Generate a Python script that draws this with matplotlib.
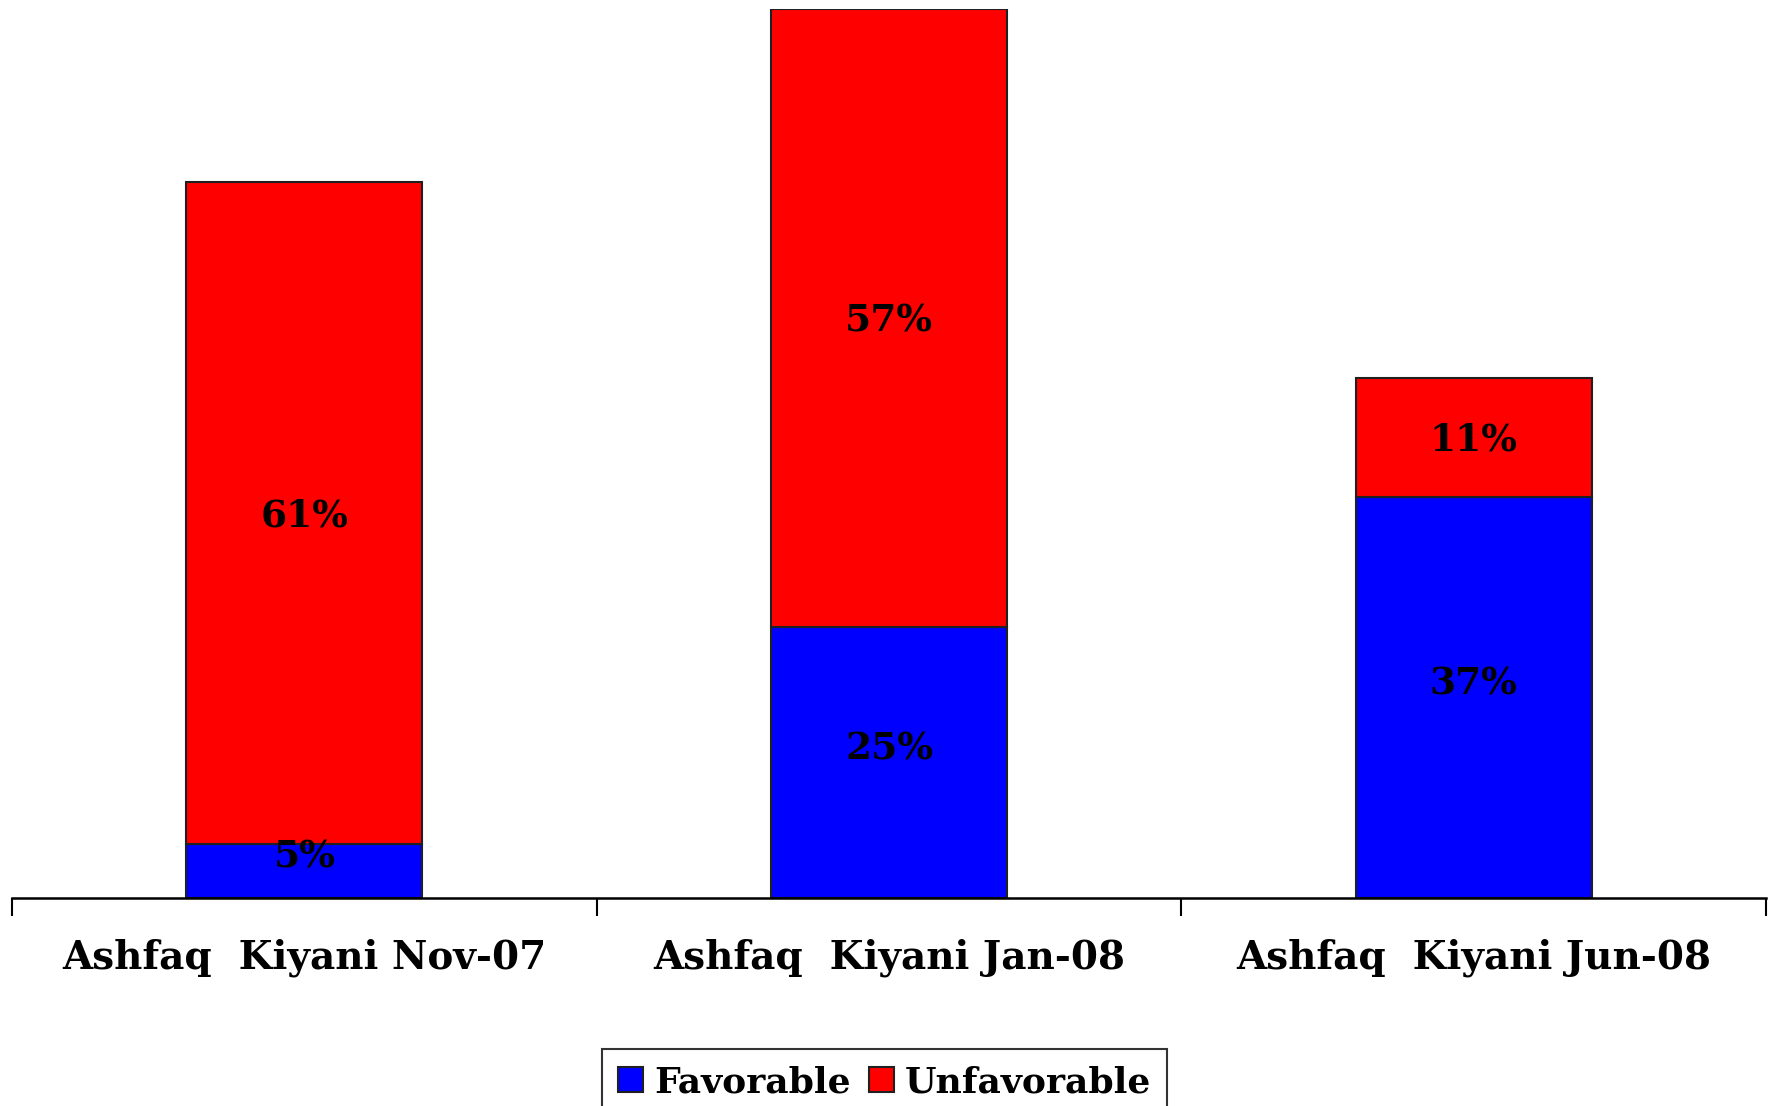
import matplotlib
matplotlib.use('agg')
import matplotlib.pyplot as plt

categories = ["Ashfaq  Kiyani Nov-07", "Ashfaq  Kiyani Jan-08", "Ashfaq  Kiyani Jun-08"]
favorable = [5, 25, 37]
unfavorable = [61, 57, 11]

plt.rcParams['font.family'] = ['DejaVu Serif']
plt.rcParams['font.weight'] = 'bold'

fig = plt.figure(figsize=(17.69, 11.06), dpi=100)
ax = fig.add_axes([12 / 1769, 208 / 1106, 1754 / 1769, 889 / 1106])

x = list(range(len(categories)))
w = 0.404
ax.bar(x, favorable, w, color="#0000ff", edgecolor="#202020", linewidth=1.5, label="Favorable")
ax.bar(x, unfavorable, w, bottom=favorable, color="#ff0000", edgecolor="#202020", linewidth=1.5, label="Unfavorable")

# favorable labels sit a bit above the segment middle in the original
for i in x:
    ax.annotate("{0}%".format(favorable[i]), (i, favorable[i] / 2), xytext=(0, 10),
                textcoords="offset points", ha="center", va="center", fontsize=27, fontweight="bold")
    ax.annotate("{0}%".format(unfavorable[i]), (i, favorable[i] + unfavorable[i] / 2), xytext=(0, -2),
                textcoords="offset points", ha="center", va="center", fontsize=27, fontweight="bold")

ax.set_xlim(-0.5, 2.5)
ax.set_ylim(0, 82)
for s in ["top", "right", "left"]:
    ax.spines[s].set_visible(False)
ax.spines["bottom"].set_linewidth(1.8)
ax.set_yticks([])
ax.set_xticks([-0.5, 0.5, 1.5, 2.5])
ax.set_xticklabels([])
ax.tick_params(axis="x", direction="out", length=13, width=1.5)
for i in x:
    ax.text(i, -5.5, categories[i], ha="center", va="center", fontsize=28, fontweight="bold")

leg = fig.legend(loc="upper center", bbox_to_anchor=(0.5, 1 - 1049 / 1106), ncol=2,
                 fontsize=26, frameon=True, fancybox=False, edgecolor="black",
                 handlelength=0.7, handleheight=0.7, handletextpad=0.3, columnspacing=0.5,
                 borderpad=0.45, borderaxespad=0)
leg.get_frame().set_linewidth(1.5)

fig.savefig("out.png", dpi=100)
